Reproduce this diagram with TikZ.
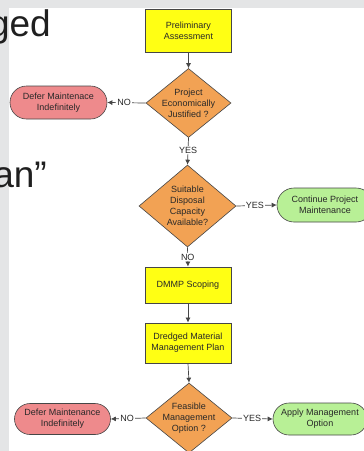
\documentclass[tikz,border=0pt]{standalone}
\usepackage{fontspec}
\setmainfont{Liberation Sans}
\usetikzlibrary{shapes.geometric,arrows.meta}
\definecolor{boxyellow}{RGB}{255,255,20}
\definecolor{diaorange}{RGB}{242,162,84}
\definecolor{endred}{RGB}{238,138,140}
\definecolor{endgreen}{RGB}{184,240,150}
\definecolor{edgegray}{RGB}{70,70,70}
\definecolor{txt}{RGB}{40,40,40}
\definecolor{slidegray}{RGB}{228,229,230}
\tikzset{
  stepbox/.style={draw=edgegray, line width=0.8pt, fill=boxyellow, minimum width=86pt, inner sep=0pt, align=center, font=\fontsize{9}{11}\selectfont, text=txt},
  dia/.style={shape=diamond, draw=edgegray, line width=0.6pt, fill=diaorange, inner sep=0pt},
  diatext/.style={align=center, font=\fontsize{9}{11}\selectfont, text=txt, inner sep=0pt},
  term/.style={draw=edgegray, line width=0.6pt, rounded corners=15.5pt, inner sep=0pt, align=center, font=\fontsize{9}{11}\selectfont, text=txt},
  conn/.style={draw=edgegray, line width=0.7pt, -{Latex[length=5pt,width=5pt]}},
  lab/.style={fill=white, inner sep=1pt, font=\fontsize{9}{10}\selectfont, text=txt},
  big/.style={font=\fontsize{37}{40}\selectfont, text=black!88, inner sep=0pt}
}
\begin{document}
\begin{tikzpicture}[x=1pt,y=-1pt]
\useasboundingbox (0,0) rectangle (364,451);
\fill[slidegray] (0,0) rectangle (364,451);
\fill[white] (9,8) rectangle (364,451);
\node[big, anchor=base east] (t1) at (51,36) {ged};
\node[big, anchor=base east] (t2) at (47,187) {an”};

\node[stepbox, minimum height=43pt] (prelim) at (188.5,30.5) {Preliminary\\Assessment};
\node[dia, minimum width=85pt, minimum height=69pt,
  label={[diatext]center:{Project\\Economically\\Justified ?}}] (d1) at (188.5,103) {};
\node[term, fill=endred, minimum width=97pt, minimum height=33pt, rounded corners=16.5pt] (defer1) at (58.5,102.5) {Defer Maintenace\\Indefinitely};
\node[dia, minimum width=97pt, minimum height=82pt,
  label={[diatext]center:{Suitable\\Disposal\\Capacity\\Available?}}] (d2) at (187.5,206) {};
\node[term, fill=endgreen, minimum width=96pt, minimum height=34pt, rounded corners=17pt] (cont) at (325,205) {Continue Project\\Maintenance};
\node[stepbox, minimum height=36pt] (dmmp) at (188,285) {DMMP Scoping};
\node[stepbox, minimum height=40pt] (dmp) at (188,343) {Dredged Material\\Management Plan};
\node[dia, minimum width=86pt, minimum height=70pt,
  label={[diatext]center:{Feasible\\Management\\Option ?}}] (d3) at (189,418) {};
\node[term, fill=endred, minimum width=96pt, minimum height=31pt] (defer2) at (62.5,419) {Defer Maintenance\\Indefinitely};
\node[term, fill=endgreen, minimum width=94pt, minimum height=32pt, rounded corners=16pt] (apply) at (320,419) {Apply Management\\Option};

\draw[conn] (prelim) -- (d1);
\draw[conn] (d1.west) -- node[lab, pos=0.56] {NO} (defer1.east);
\draw[conn] (d1.south) -- node[lab, pos=0.46] {YES} (d2.north);
\draw[conn] (d2.east) -- node[lab, pos=0.46] {YES} (cont.west);
\draw[conn] (d2.south) -- node[lab, pos=0.5] {NO} (dmmp.north);
\draw[conn] (dmmp) -- (dmp);
\draw[conn] (dmp.south) -- (d3.north);
\draw[conn] (d3.west) -- node[lab, pos=0.53] {NO} (defer2.east);
\draw[conn] (d3.east) -- node[lab, pos=0.49] {YES} (apply.west);
\end{tikzpicture}
\end{document}
